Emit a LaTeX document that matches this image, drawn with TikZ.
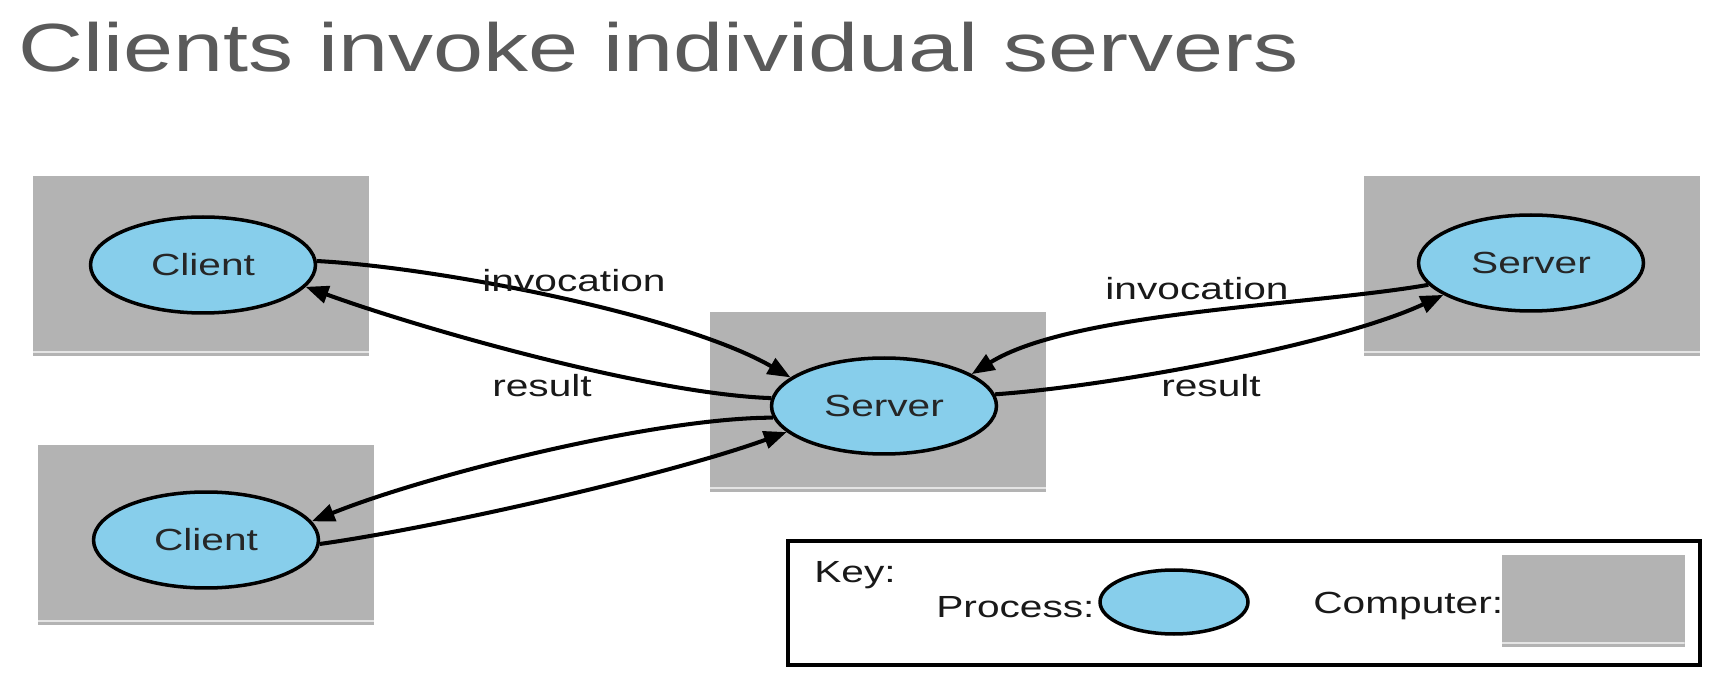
\documentclass[tikz,border=0pt]{standalone}
\usepackage{fontspec}
\setmainfont{Liberation Sans}[FakeStretch=1.33]
\newfontfamily\titlefont{Liberation Sans}[FakeStretch=1.32]
\usetikzlibrary{arrows.meta}
\usetikzlibrary{shapes.geometric}
\tikzset{>={Triangle[length=13pt,width=10pt]}}
\definecolor{procblue}{RGB}{135,206,235}
\definecolor{pcgray}{RGB}{179,179,179}
\definecolor{titlegray}{RGB}{90,90,90}
\tikzset{
  computer/.style={fill=pcgray, minimum width=6.72cm, minimum height=3.6cm, inner sep=0,
    path picture={\draw[line width=1.2pt, pcgray!35]
      ([yshift=2.5pt]path picture bounding box.south west) --
      ([yshift=2.5pt]path picture bounding box.south east);}},
  process/.style={ellipse, draw, line width=2pt, fill=procblue, text=black!85,
    minimum width=4.5cm, minimum height=1.92cm, inner sep=0,
    font=\fontsize{17.4}{20}\selectfont},
  call/.style={->, line width=2.3pt, looseness=0.65},
  lbl/.style={inner sep=0, text=black!90, font=\fontsize{17.4}{20}\selectfont}
}

\begin{document}
\begin{tikzpicture}[x=0.02cm,y=0.02cm]
  \useasboundingbox (0,0) rectangle (1720,683);
  \node[anchor=base west, inner sep=0, text=titlegray,
    font=\titlefont\fontsize{38.8}{44}\selectfont] (title) at (18,611)
    {Clients invoke individual servers};
  % computers
  \node[computer] (pc1) at (201,417) {};
  \node[computer] (pc2) at (206,148) {};
  \node[computer] (pc3) at (878,281) {};
  \node[computer] (pc4) at (1532,417) {};
  % processes
  \node[process] (c1) at (203,418) {Client};
  \node[process] (c2) at (206,143) {Client};
  \node[process] (s1) at (884,277) {Server};
  \node[process] (s2) at (1531,420) {Server};
  % invocations and results
  \draw[call] (c1.2) to[out=-3,in=150] (s1.163);
  \draw[call] (s1.176) to[out=178,in=-20] (c1.-12);
  \draw[call] (s1.186) to[out=180,in=22] (c2.10);
  \draw[call] (c2.-2) to[out=8,in=200] (s1.195);
  \draw[call] (s2.192) to[out=190,in=32] (s1.20);
  \draw[call] (s1.6) to[out=4,in=205] (s2.200);
  \node[lbl] (inv1) at (574,402) {invocation};
  \node[lbl] (res1) at (542,297) {result};
  \node[lbl] (inv2) at (1197,394) {invocation};
  \node[lbl] (res2) at (1211,297) {result};
  % key
  \node[draw, line width=2pt, minimum width=18.24cm, minimum height=2.48cm] (key) at (1244,80) {};
  \node[lbl, anchor=west] (keylbl) at (814,108) {Key:};
  \node[lbl, anchor=west] (proclbl) at (936,76) {Process:};
  \node[process, minimum width=2.96cm, minimum height=1.28cm] (keyproc) at (1174,81) {};
  \node[lbl, anchor=west] (pclbl) at (1313,77) {Computer:};
  \node[computer, minimum width=3.66cm, minimum height=1.84cm] (keypc) at (1593,82) {};
\end{tikzpicture}
\end{document}
